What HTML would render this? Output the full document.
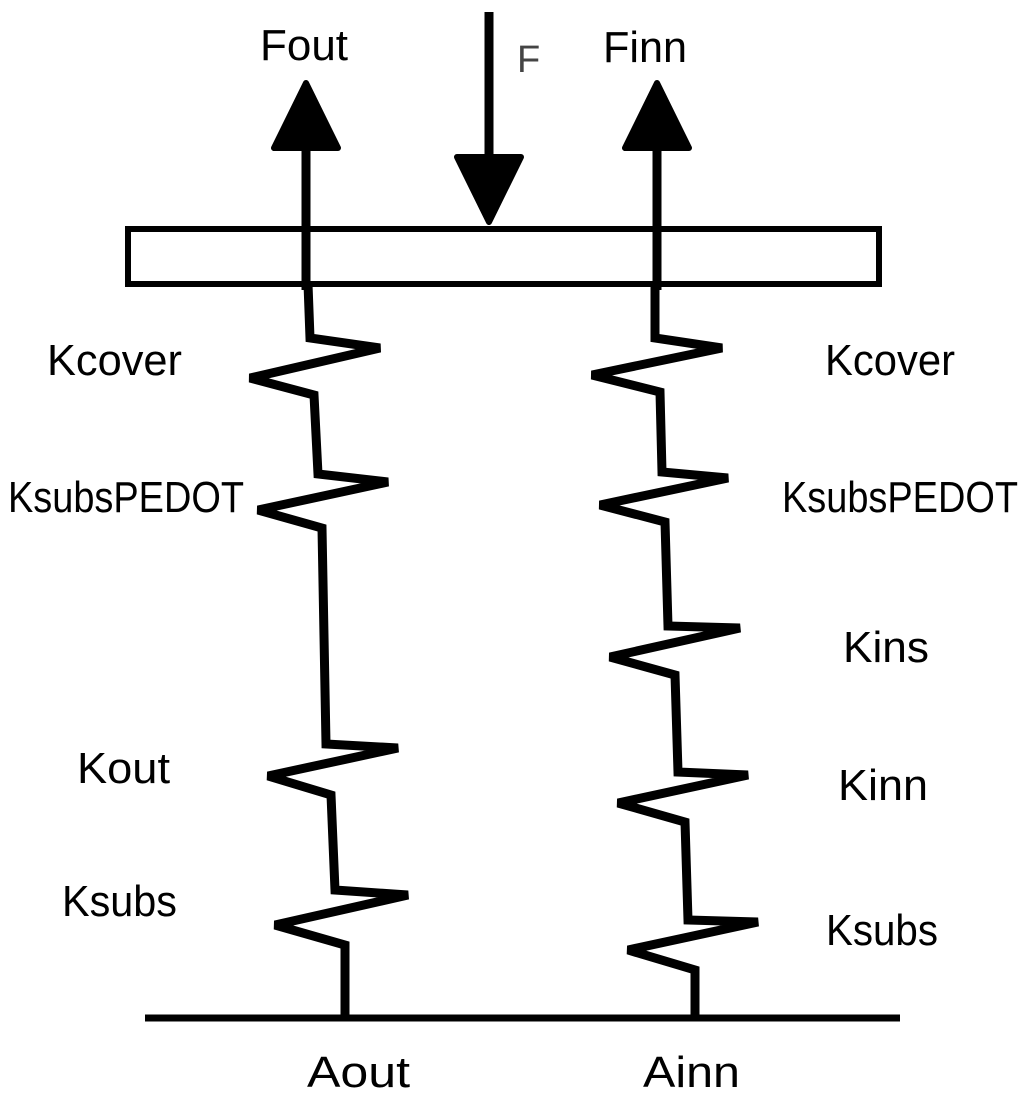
<!DOCTYPE html>
<html><head><meta charset="utf-8"><style>
html,body{margin:0;padding:0;background:#fff;}
svg{display:block;}
text{font-family:"Liberation Sans",sans-serif;font-size:44px;fill:#000;}
</style></head><body>
<svg width="1024" height="1102" viewBox="0 0 1024 1102" xmlns="http://www.w3.org/2000/svg">
<rect x="128" y="229" width="751" height="55" fill="none" stroke="#000" stroke-width="6"/>
<line x1="145" y1="1018" x2="900" y2="1018" stroke="#000" stroke-width="7"/>
<line x1="306" y1="150" x2="306" y2="290" stroke="#000" stroke-width="9"/>
<polygon points="306,83 274,148 338,148" fill="#000" stroke="#000" stroke-width="6" stroke-linejoin="round"/>
<line x1="657" y1="150" x2="657" y2="290" stroke="#000" stroke-width="9"/>
<polygon points="657,83 625,148 689,148" fill="#000" stroke="#000" stroke-width="6" stroke-linejoin="round"/>
<line x1="489" y1="12" x2="489" y2="160" stroke="#000" stroke-width="9"/>
<polygon points="489,222 457,157 521,157" fill="#000" stroke="#000" stroke-width="6" stroke-linejoin="round"/>
<polyline fill="none" stroke="#000" stroke-width="9" stroke-linejoin="miter" stroke-miterlimit="3"
 points="308,284 310,338 380,348 250,378 314,395 318,474 388,482 258,510 322,528 326,744 398,748 268,776 331,795 335,890 408,895 275,925 345,945 345,1018"/>
<polyline fill="none" stroke="#000" stroke-width="9" stroke-linejoin="miter" stroke-miterlimit="3"
 points="655,284 655,338 722,348 592,375 660,392 662,472 728,478 600,505 665,522 668,626 740,628 610,657 675,675 678,772 748,775 618,803 685,822 688,920 758,922 628,950 695,970 695,1018"/>
<text x="260" y="60" textLength="88" lengthAdjust="spacingAndGlyphs">Fout</text>
<text x="517" y="72" style="font-size:38px;fill:#444">F</text>
<text x="603" y="62" textLength="84" lengthAdjust="spacingAndGlyphs">Finn</text>
<text x="47" y="375" textLength="135" lengthAdjust="spacingAndGlyphs">Kcover</text>
<text x="8" y="512" textLength="236" lengthAdjust="spacingAndGlyphs">KsubsPEDOT</text>
<text x="77" y="783" textLength="93" lengthAdjust="spacingAndGlyphs">Kout</text>
<text x="62" y="916" textLength="115" lengthAdjust="spacingAndGlyphs">Ksubs</text>
<text x="825" y="375" textLength="130" lengthAdjust="spacingAndGlyphs">Kcover</text>
<text x="782" y="512" textLength="236" lengthAdjust="spacingAndGlyphs">KsubsPEDOT</text>
<text x="843" y="662" textLength="86" lengthAdjust="spacingAndGlyphs">Kins</text>
<text x="838" y="800" textLength="90" lengthAdjust="spacingAndGlyphs">Kinn</text>
<text x="826" y="945" textLength="112" lengthAdjust="spacingAndGlyphs">Ksubs</text>
<text x="307" y="1087" textLength="103" lengthAdjust="spacingAndGlyphs">Aout</text>
<text x="643" y="1087" textLength="97" lengthAdjust="spacingAndGlyphs">Ainn</text>
</svg>
</body></html>
